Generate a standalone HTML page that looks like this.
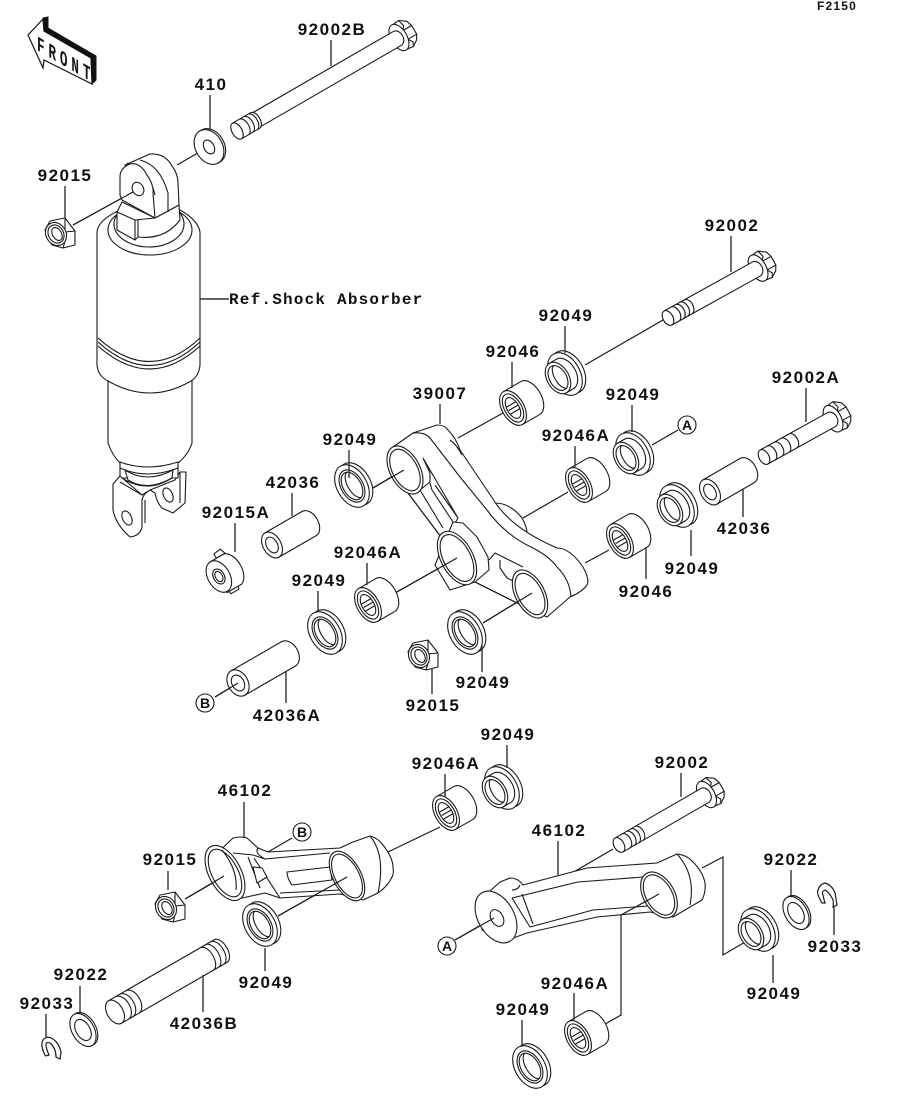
<!DOCTYPE html>
<html><head><meta charset="utf-8"><style>
html,body{margin:0;padding:0;background:#fff}
svg{display:block}
.p,.p *{fill:#fff;stroke:#1a1a1a;stroke-width:1.1;stroke-linejoin:round}
.p .n,.n{fill:none;stroke:#1a1a1a;stroke-width:1.1}
.c{fill:none;stroke:#1a1a1a;stroke-width:1.2}
.l{fill:none;stroke:#333;stroke-width:1.4}
text{font-family:"Liberation Sans",sans-serif;font-size:17px;font-weight:700;letter-spacing:1.5px;fill:#111;text-anchor:middle}
</style></head><body>
<svg width="914" height="1103" viewBox="0 0 914 1103" xmlns="http://www.w3.org/2000/svg">
<defs>
<g id="brg" class="p"><path d="M0,-19H20A11,19 0 0 1 20,19H0Z"/><ellipse rx="11" ry="19"/><ellipse rx="8.5" ry="15.5"/><ellipse rx="6" ry="11.5"/><path class="n" d="M-5,-4H6M-5,0H6.5M-5,4H6"/></g>
<g id="fwA" class="p"><ellipse cx="4" rx="15" ry="23"/><ellipse rx="15" ry="23"/><ellipse rx="11" ry="17.5"/><ellipse rx="9" ry="15"/><path class="n" d="M3,-14.5A7,14.5 0 0 0 3,14.5"/></g>
<g id="fwB" class="p"><ellipse cx="12" rx="15" ry="23"/><ellipse cx="8" rx="15" ry="23"/><path d="M0,-17H8A11,17 0 0 1 8,17H0Z"/><ellipse rx="11" ry="17"/><ellipse rx="8.5" ry="13.5"/><path class="n" d="M3,-13A6,13 0 0 0 3,13"/></g>
<g id="hd" class="p"><path d="M0,-14L8,-15L15,-10L17,-4L17,6L14,11L8,15L0,14Z"/><path class="n" d="M8,-15L10,-8L7,-4H17M7,6H17M7,6L10,11L8,15"/><ellipse rx="8" ry="14.5"/></g>
<g id="nut" class="p"><path d="M-15,-3L-10,-12L5,-15L15,-2L15,12L3,15L-8,12Z"/><path class="n" d="M5,-15L5,-1L15,-2M5,-1Q6,7 3,15"/><ellipse cx="-4" cy="1" rx="10" ry="12" transform="rotate(-30 -4 1)"/><ellipse cx="-4" cy="1" rx="7.5" ry="9.5" transform="rotate(-30 -4 1)"/><ellipse cx="-3" cy="1" rx="4.5" ry="7" transform="rotate(-30 -3 1)"/></g>
</defs>

<!-- connectors -->
<g class="c">
<path d="M73,225L133,192M177,165L203,150M663,320L585,365M458,438L503,413M373,488L403,470M652,445L678,430M523,518L568,492M585,563L609,550M395,593L457,558M483,623L532,593M215,697L235,685M388,852L440,827M185,899L223,877M278,916L347,877M572,873L613,849M455,940L493,918"/>
<path d="M702,868L723,857V955L752,938M621,915V1015L600,1027"/>
</g>

<!-- FRONT -->
<path d="M43,18L48,17L48,28L96,56L96,80L92,84L91,58L44,31Z" fill="#111" stroke="#111" stroke-width="1"/>
<path d="M28,35L43,19L44,31L91,58L92,84L44,60L43,68Z" fill="#fff" stroke="#111" stroke-width="1.2"/>
<text transform="matrix(.6 .35 0 1 37 50)" style="font-size:21px;letter-spacing:6.5px;text-anchor:start;font-family:'Liberation Mono',monospace">FRONT</text>

<!-- shock absorber -->
<g class="p">
<path d="M186,472L180,472L175,480L150,490L155,493Q157,503 162,508L173,513L185,503Z"/>
<path class="n" d="M180,472V503"/>
<ellipse cx="168" cy="495" rx="4.5" ry="7.5" transform="rotate(-25 168 495)"/>
<path d="M108,370V443Q112,455 120,463V478H178V463Q188,455 192,443V370Z"/>
<path d="M120,462Q147,472 178,462L178,468Q147,480 120,468Z"/>
<path d="M125,470Q147,484 173,470L172,478Q147,492 128,480Z"/>
<path class="n" d="M122,478Q147,494 172,478"/>
<path d="M120,476L113,484V510Q116,525 130,537Q140,536 142,527V500Q143,494 150,490L142,495Z"/>
<path class="n" d="M120,482L142,495M145,500V523"/>
<ellipse cx="127" cy="518" rx="4.5" ry="7.5" transform="rotate(-25 127 518)"/>
<path d="M97,232Q98,220 120,210L180,210Q198,220 200,232V365Q199,376 191,381Q150,405 108,381Q98,376 97,365Z"/>
<path class="n" d="M98,338Q150,385 200,338M98,342Q150,389 200,342M98,346Q150,392 200,346"/>
<ellipse cx="150" cy="230" rx="42" ry="25"/>
<ellipse cx="149" cy="224" rx="35" ry="23"/>
<path d="M122,202L117,212V230L135,240L138,237Q165,240 180,220L179,205L155,218Z"/>
<path class="n" d="M117,212L135,220V240M138,220V237M135,220L155,218"/>
<path d="M125,165L150,154Q165,153 172,166Q178,174 178,183L179,205L155,218Z"/>
<path class="n" d="M140,160Q160,165 168,193V212M127,163Q150,172 155,195"/>
<path d="M122,200L120,195V177Q120,168 130,164Q140,162 147,175Q154,185 153,193L155,218Z"/>
<ellipse cx="138" cy="189" rx="5.5" ry="7" transform="rotate(-30 138 189)"/>
</g>
<path class="c" d="M73,225L133,192"/>

<!-- washer 410 -->
<g class="p" transform="translate(209,147) rotate(-30)"><ellipse cx="2" rx="13.5" ry="18.5"/><ellipse rx="13.5" ry="18.5"/><ellipse rx="5" ry="7.5"/></g>
<!-- nut 92015 -->
<use href="#nut" x="60" y="233"/>

<!-- Bolts -->
<g class="p" transform="translate(237,131) rotate(-30)">
<use href="#hd" x="187"/>
<path d="M22,-8H186Q191,-6 191,0Q191,6 186,8H22Z"/><path d="M0,-9H21A5,9 0 0 1 21,9H0Z"/><ellipse rx="5" ry="9"/>
<path class="n" d="M8,-9A5,9 0 0 1 8,9M13,-9A5,9 0 0 1 13,9M18,-9A5,9 0 0 1 18,9"/></g>
<g class="p" transform="translate(668,318) rotate(-29)">
<use href="#hd" x="103"/>
<path d="M24,-8H102Q107,-6 107,0Q107,6 102,8H24Z"/><path d="M0,-8H23A5,8 0 0 1 23,8H0Z"/><ellipse rx="5" ry="8"/>
<path class="n" d="M8,-8A5,8 0 0 1 8,8M13,-8A5,8 0 0 1 13,8M18,-8A5,8 0 0 1 18,8"/></g>
<g class="p" transform="translate(764,457) rotate(-29)">
<use href="#hd" x="79"/>
<path d="M34,-8H78Q83,-6 83,0Q83,6 78,8H34Z"/><path d="M0,-8H33A5,8 0 0 1 33,8H0Z"/><ellipse rx="5" ry="8"/>
<path class="n" d="M8,-8A5,8 0 0 1 8,8M16,-8A5,8 0 0 1 16,8M24,-8A5,8 0 0 1 24,8"/></g>
<g class="p" transform="translate(619,845) rotate(-30)">
<use href="#hd" x="101"/>
<path d="M24,-8H100Q105,-6 105,0Q105,6 100,8H24Z"/><path d="M0,-8H23A5,8 0 0 1 23,8H0Z"/><ellipse rx="5" ry="8"/>
<path class="n" d="M8,-8A5,8 0 0 1 8,8M13,-8A5,8 0 0 1 13,8M18,-8A5,8 0 0 1 18,8"/></g>

<!-- linkage 39007 -->
<g class="p">
<path d="M495,503Q510,503 522,518Q528,528 527,538L500,520Z"/>
<path d="M393,447L413,433L437,425Q445,425 448,430Q456,438 460,450L497,505Q515,530 557,548Q570,548 583,567Q590,580 587,585Q582,592 570,597L547,617L517,603L475,582L438,533L408,493Z"/>
<path class="n" d="M413,433Q425,432 430,438L460,477L487,510Q505,535 533,548Q550,557 557,567Q570,580 571,597M450,440Q457,445 462,455"/>
<path class="n" d="M423,458L458,518L455,523M423,458L430,473V482L420,490M420,490L443,528M430,483L432,490L455,525M435,485L458,518M408,493L438,533M475,582L517,603M489,560L495,553L523,567M500,560V568L507,578L515,582"/>
<ellipse cx="405" cy="470" rx="15" ry="26" transform="rotate(-28 405 470)"/>
<ellipse cx="405" cy="470" rx="12.5" ry="22.5" transform="rotate(-28 405 470)"/>
<path d="M453,522L463,523L477,537L488,557L489,570L475,582L450,590L435,565Z"/>
<ellipse cx="457" cy="558" rx="16" ry="29" transform="rotate(-28 457 558)"/>
<ellipse cx="457" cy="558" rx="13.5" ry="25.5" transform="rotate(-28 457 558)"/>
<ellipse cx="530" cy="594" rx="14.5" ry="26" transform="rotate(-28 530 594)"/>
<ellipse cx="530" cy="594" rx="12" ry="22.5" transform="rotate(-28 530 594)"/>
</g>
<path class="c" d="M373,488L404,470M395,593L457,558M483,623L532,593"/>

<!-- bearings -->
<use href="#brg" transform="translate(513,408) rotate(-30)"/>
<use href="#brg" transform="translate(579,485) rotate(-30)"/>
<use href="#brg" transform="translate(620,541) rotate(-30)"/>
<use href="#brg" transform="translate(368,605) rotate(-30)"/>
<use href="#brg" transform="translate(446,813) rotate(-30)"/>
<use href="#brg" transform="translate(578,1038) rotate(-30)"/>

<!-- flanged washers -->
<use href="#fwA" transform="translate(352,486) rotate(-30)"/>
<use href="#fwA" transform="translate(325,633) rotate(-30)"/>
<use href="#fwA" transform="translate(465,633) rotate(-30)"/>
<use href="#fwA" transform="translate(260,925) rotate(-30)"/>
<use href="#fwA" transform="translate(530,1067) rotate(-30)"/>
<use href="#fwB" transform="translate(558,378) rotate(-30)"/>
<use href="#fwB" transform="translate(626,458) rotate(-30)"/>
<use href="#fwB" transform="translate(670,510) rotate(-30)"/>
<use href="#fwB" transform="translate(495,792) rotate(-30)"/>
<use href="#fwB" transform="translate(751,934) rotate(-30)"/>

<!-- sleeves -->
<g class="p" transform="translate(710,492) rotate(-30)"><path d="M0,-14H43A9,14 0 0 1 43,14H0Z"/><ellipse rx="9" ry="14"/><ellipse rx="5.5" ry="8.5"/></g>
<g class="p" transform="translate(272,545) rotate(-30)"><path d="M0,-14H43A9,14 0 0 1 43,14H0Z"/><ellipse rx="9" ry="14"/><ellipse rx="5.5" ry="8.5"/></g>
<g class="p" transform="translate(238,683) rotate(-30)"><path d="M0,-14H58A10,14 0 0 1 58,14H0Z"/><ellipse rx="10" ry="14"/><ellipse rx="6" ry="8.5"/></g>
<path class="c" d="M215,697L238,683"/>

<!-- 92015A -->
<g class="p" transform="translate(218,577) rotate(-30)">
<path d="M8,-17L8,-22L16,-23L18,-17Z"/><path d="M2,17L3,21L12,21L13,17Z"/>
<path d="M0,-17H17A11,18 0 0 1 17,18H0Z"/><ellipse cx="1" rx="11" ry="17"/><ellipse cx="1" rx="5.5" ry="8"/><ellipse cx="1" rx="3.5" ry="5.5"/></g>

<!-- nuts -->
<use href="#nut" x="423" y="655"/>
<use href="#nut" x="170" y="907"/>

<!-- link 46102 left -->
<g class="p">
<path d="M210,860L233,838Q242,836 247,838L258,848L268,852L340,848L353,842L370,836Q378,838 383,845Q393,858 393,867Q394,874 392,877Q388,886 378,893L363,900L340,894L280,898L265,893L242,898L225,895Z"/>
<path class="n" d="M233,853L253,855L265,859L330,853M248,857L260,888M254,858L280,898M280,893L340,890M258,848Q254,853 265,859M370,836Q386,855 378,893"/>
<path d="M287,872L330,867L332,880L292,885Q287,878 287,872Z"/>
<path d="M253,867L262,868L267,877L257,883Z"/>
<ellipse cx="225" cy="873" rx="16" ry="30" transform="rotate(-28 225 873)"/>
<ellipse cx="225" cy="873" rx="13" ry="26" transform="rotate(-28 225 873)"/>
<path class="n" d="M222,850Q238,870 236,890"/>
<ellipse cx="347" cy="876" rx="14" ry="27" transform="rotate(-28 347 876)"/>
<ellipse cx="347" cy="876" rx="12" ry="24" transform="rotate(-28 347 876)"/>
</g>
<path class="c" d="M185,899L224,876M278,916L347,877M292,838L268,852"/>

<!-- link 46102 right -->
<g class="p">
<path d="M480,900L500,882L510,878Q518,878 523,885L587,868L657,863L677,854Q687,855 693,862Q703,872 705,883Q706,892 702,900L673,917L650,912L597,917L527,933L505,941L482,930Z"/>
<path class="n" d="M512,898L578,882L643,877M530,927L593,910L648,906M512,898L530,927M522,894L533,924M520,885Q518,890 512,890M677,854Q696,875 690,905"/>
<ellipse cx="496" cy="917" rx="18" ry="28" transform="rotate(-30 496 917)"/>
<ellipse cx="497" cy="918" rx="6" ry="9" transform="rotate(-30 497 918)"/>
<ellipse cx="659" cy="895" rx="15.5" ry="25" transform="rotate(-30 659 895)"/>
<ellipse cx="659" cy="895" rx="13" ry="22" transform="rotate(-30 659 895)"/>
</g>
<path class="c" d="M455,940L494,918M621,915L659,894"/>

<!-- pin 42036B -->
<g class="p" transform="translate(115,1012) rotate(-30)">
<path d="M0,-13H122A7,13 0 0 1 122,13H0Z"/><ellipse rx="8" ry="13"/>
<path class="n" d="M8,-13A8,13 0 0 1 8,13M13,-13A8,13 0 0 1 13,13M20,-13A8,13 0 0 1 20,13M106,-13A7,13 0 0 1 106,13M112,-13A7,13 0 0 1 112,13M118,-13A7,13 0 0 1 118,13"/></g>

<!-- plain washers -->
<g class="p" transform="translate(83,1030) rotate(-30)"><ellipse cx="2" rx="11" ry="18"/><ellipse rx="11" ry="18"/><ellipse rx="7" ry="11.5"/></g>
<g class="p" transform="translate(796,913) rotate(-30)"><ellipse cx="2" rx="11" ry="18"/><ellipse rx="11" ry="18"/><ellipse rx="7" ry="11.5"/></g>

<!-- circlips -->
<path class="c" d="M45,1055Q40,1045 43,1040Q47,1035 53,1039Q59,1043 61,1052L60,1059L56,1057Q56,1048 50,1043Q46,1041 46,1046Q47,1051 49,1055L46,1056Z"/>
<path class="c" d="M822,903Q816,893 818,890Q820,884 825,883Q832,885 835,893L837,905L833,907Q834,900 832,898Q829,892 825,890Q821,892 823,895Q824,900 825,903Z"/>

<!-- letter circles -->
<g class="p"><circle cx="205" cy="703" r="9"/><circle cx="687" cy="425" r="9"/><circle cx="302" cy="832" r="9"/><circle cx="447" cy="946" r="9"/></g>
<text x="205" y="708" style="font-size:14px;letter-spacing:0">B</text><text x="687" y="430" style="font-size:14px;letter-spacing:0">A</text><text x="302" y="837" style="font-size:14px;letter-spacing:0">B</text><text x="447" y="951" style="font-size:14px;letter-spacing:0">A</text>

<!-- leaders -->
<path class="l" d="M331,40V66M210,95V130M65,186V218M200,299H229M731,236V272M565,326V353M512,362V388M440,404V424M632,405V432M806,388V422M575,446V467M349,450V478M292,493V516M235,523V552M367,563V585M318,591V612M743,489V517M691,530V556M646,547V579M482,645V672M432,668V694M286,672V703M507,745V768M445,774V797M681,773V797M244,802V838M558,841V875M168,871V890M791,870V895M834,906V935M773,955V983M265,948V971M203,975V1012M80,986V1012M46,1014V1037M574,993V1020M522,1020V1045"/>

<!-- labels -->
<text x="332" y="35">92002B</text>
<text x="211" y="90">410</text>
<text x="65" y="181">92015</text>
<text x="229" y="304" style="font-family:'Liberation Mono',monospace;font-size:16px;letter-spacing:1.2px;text-anchor:start">Ref.Shock Absorber</text>
<text x="732" y="231">92002</text>
<text x="566" y="321">92049</text>
<text x="513" y="357">92046</text>
<text x="440" y="399">39007</text>
<text x="633" y="400">92049</text>
<text x="806" y="383">92002A</text>
<text x="576" y="441">92046A</text>
<text x="350" y="445">92049</text>
<text x="293" y="488">42036</text>
<text x="236" y="518">92015A</text>
<text x="368" y="558">92046A</text>
<text x="319" y="586">92049</text>
<text x="744" y="534">42036</text>
<text x="692" y="574">92049</text>
<text x="646" y="597">92046</text>
<text x="483" y="688">92049</text>
<text x="433" y="711">92015</text>
<text x="287" y="721">42036A</text>
<text x="508" y="740">92049</text>
<text x="446" y="769">92046A</text>
<text x="682" y="768">92002</text>
<text x="245" y="796">46102</text>
<text x="559" y="836">46102</text>
<text x="170" y="865">92015</text>
<text x="791" y="865">92022</text>
<text x="835" y="952">92033</text>
<text x="774" y="999">92049</text>
<text x="266" y="988">92049</text>
<text x="204" y="1029">42036B</text>
<text x="81" y="980">92022</text>
<text x="47" y="1009">92033</text>
<text x="575" y="989">92046A</text>
<text x="523" y="1015">92049</text>
<text x="837" y="10" style="font-size:12px;letter-spacing:1.2px;font-weight:700">F2150</text>
</svg>
</body></html>
